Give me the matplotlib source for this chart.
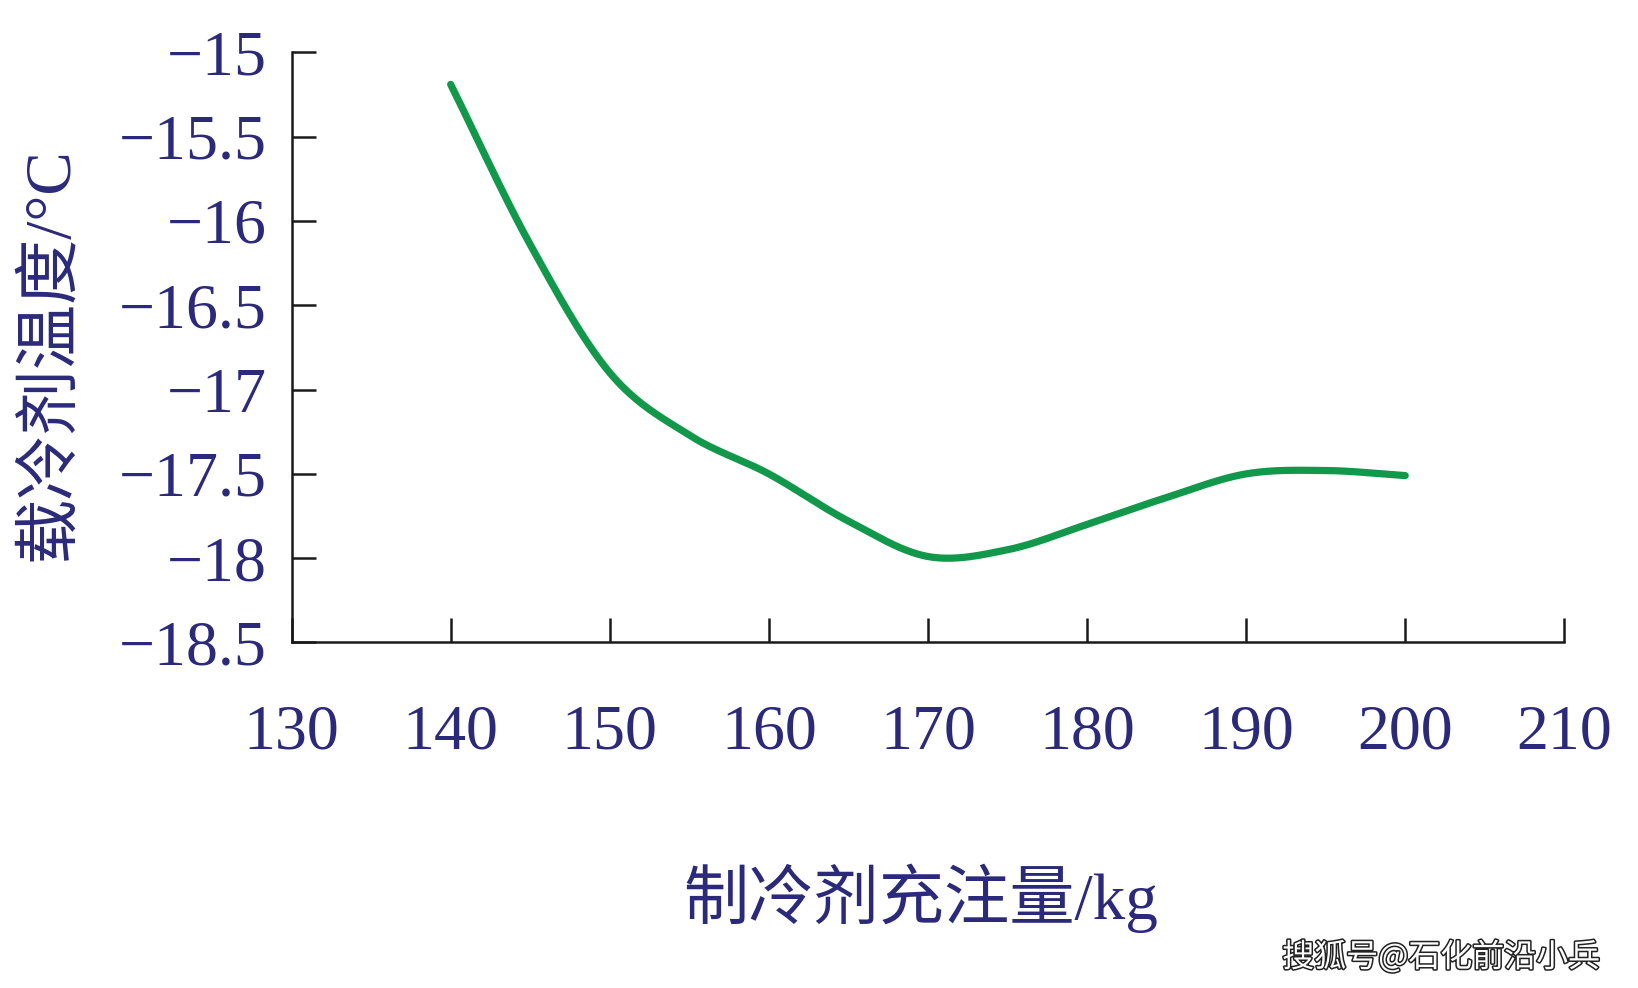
import numpy as np
import matplotlib
matplotlib.use("Agg")
import matplotlib.pyplot as plt
import matplotlib.patheffects as pe

# ---- data ----
charge_kg = [140, 145, 150, 155, 160, 165, 170, 175, 180, 185, 190, 195, 200]
brine_temp = [-15.19, -16.14, -16.90, -17.27, -17.50, -17.78, -17.99, -17.95,
              -17.80, -17.64, -17.50, -17.48, -17.51]
x_ticks = [130, 140, 150, 160, 170, 180, 190, 200, 210]
y_ticks = [-15, -15.5, -16, -16.5, -17, -17.5, -18, -18.5]
y_tick_labels = ["\u221215", "\u221215.5", "\u221216", "\u221216.5",
                 "\u221217", "\u221217.5", "\u221218", "\u221218.5"]
x_label = "制冷剂充注量/kg"
y_label = "载冷剂温度/°C"
watermark = "搜狐号@石化前沿小兵"

TEXT = "#2b2a7a"
LINE = "#12984a"
FAM = ["Liberation Serif", "Noto Sans CJK SC", "DejaVu Sans"]


def catmull_rom(xs, ys, n=40):
    """Smooth rendering of the line through the data points (Excel-style)."""
    xs = np.asarray(xs, float)
    ys = np.asarray(ys, float)
    px = np.concatenate([[2 * xs[0] - xs[1]], xs, [2 * xs[-1] - xs[-2]]])
    py = np.concatenate([[2 * ys[0] - ys[1]], ys, [2 * ys[-1] - ys[-2]]])
    outx, outy = [], []
    for i in range(1, len(px) - 2):
        t = np.linspace(0, 1, n, endpoint=(i == len(px) - 3))
        for P, out in ((px, outx), (py, outy)):
            p0, p1, p2, p3 = P[i - 1], P[i], P[i + 1], P[i + 2]
            out.extend(0.5 * ((2 * p1) + (-p0 + p2) * t
                              + (2 * p0 - 5 * p1 + 4 * p2 - p3) * t ** 2
                              + (-p0 + 3 * p1 - 3 * p2 + p3) * t ** 3))
    return np.array(outx), np.array(outy)


fig = plt.figure(figsize=(16.38, 9.88), dpi=100)
ax = fig.add_axes([0.178, 0.3497, 0.955 - 0.178, 0.947 - 0.3497])

sx, sy = catmull_rom(charge_kg, brine_temp)
ax.plot(sx, sy, color=LINE, lw=5.2, solid_capstyle="round")

ax.set_xlim(130, 210)
ax.set_ylim(-18.5, -15)
ax.set_xticks(x_ticks)
ax.set_xticklabels([str(v) for v in x_ticks])
ax.set_yticks(y_ticks)
ax.set_yticklabels(y_tick_labels)

for s in ("top", "right"):
    ax.spines[s].set_visible(False)
for s in ("left", "bottom"):
    ax.spines[s].set_linewidth(1.8)
    ax.spines[s].set_color("#1a1a1a")

ax.tick_params(axis="x", direction="in", length=17, width=1.8, pad=45,
               colors="#1a1a1a", labelcolor=TEXT)
ax.tick_params(axis="y", direction="in", length=17, width=1.8, pad=18,
               colors="#1a1a1a", labelcolor=TEXT)
for lab in ax.get_xticklabels() + ax.get_yticklabels():
    lab.set_family(FAM)
    lab.set_fontsize(46)

fig.text(0.031, 0.642, y_label, rotation=90, ha="center", va="center",
         color=TEXT, fontsize=47, family=FAM)
fig.text(0.562, 0.091, x_label, ha="center", va="center",
         color=TEXT, fontsize=47, family=FAM)
fig.text(0.880, 0.031, watermark, ha="center", va="center", color="white",
         fontsize=23, family=["Noto Sans CJK SC", "DejaVu Sans"],
         path_effects=[pe.withStroke(linewidth=2.2, foreground="#222222")])

fig.savefig("out.png", dpi=100, facecolor="white")
